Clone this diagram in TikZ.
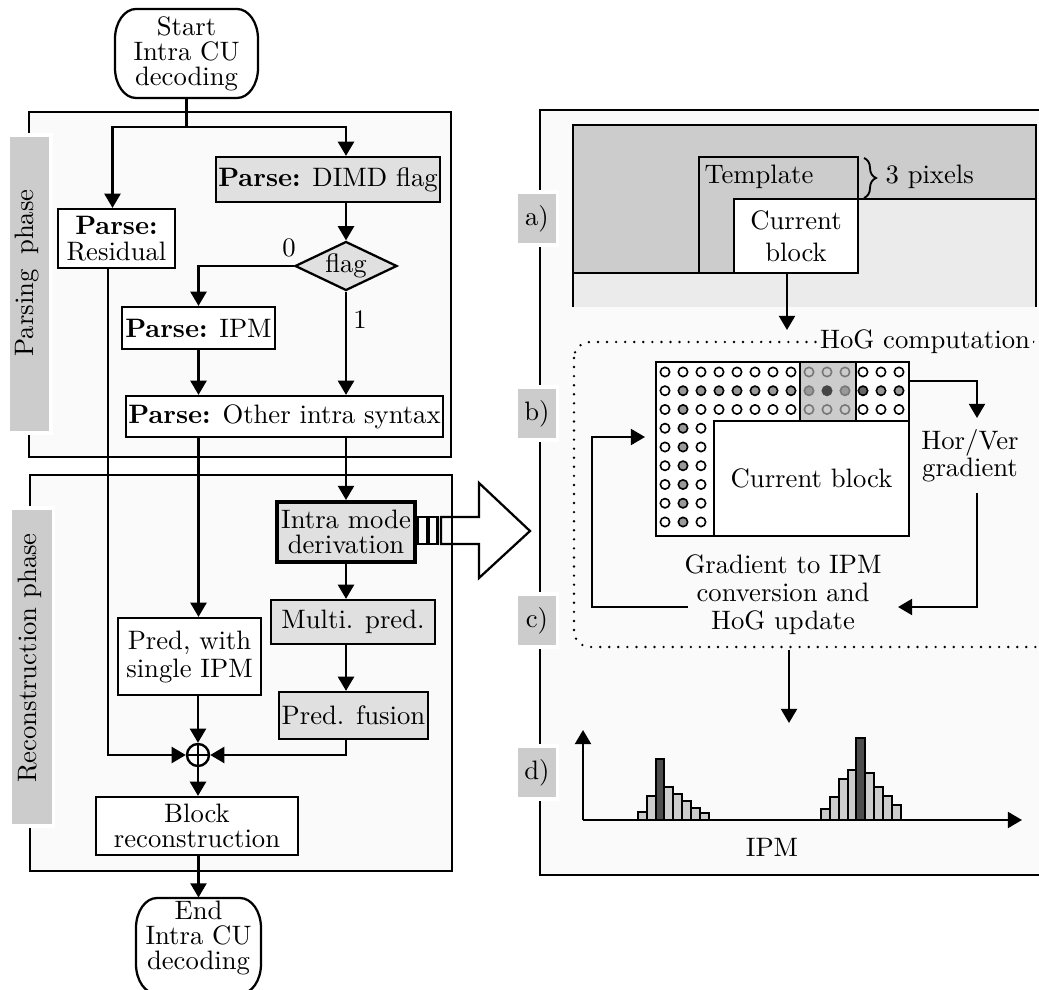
\documentclass[tikz,border=0pt]{standalone}
\usetikzlibrary{arrows.meta,shapes.geometric,calc,decorations.pathreplacing}
\definecolor{panelbg}{HTML}{FAFAFA}
\definecolor{lblgray}{HTML}{CCCCCC}
\definecolor{boxgray}{HTML}{E0E0E0}
\definecolor{lightgr}{HTML}{EBEBEB}
\definecolor{midgr}{HTML}{999999}
\definecolor{darkgr}{HTML}{444444}
\definecolor{dgrtwo}{HTML}{666666}
\definecolor{outlgr}{HTML}{777777}
\definecolor{bardark}{HTML}{4D4D4D}
\newcommand\termshape[4]{%
 \draw[line width=0.85pt, fill=white] ({#1+21},#2) -- ({#3-21},#2) .. controls ({#3-9.4},#2) and (#3,{#2+13.4}) .. (#3,{#2+30}) -- (#3,{#4-30}) .. controls (#3,{#4-13.4}) and ({#3-9.4},#4) .. ({#3-21},#4) -- ({#1+21},#4) .. controls ({#1+9.4},#4) and (#1,{#4-13.4}) .. (#1,{#4-30}) -- (#1,{#2+30}) .. controls (#1,{#2+13.4}) and ({#1+9.4},#2) .. cycle;}
\newcommand\gc[4]{\draw[fill=#3, draw=#4, line width=0.6pt] ({665+18*#1},{372+18.75*#2}) circle[radius=1.75pt];}
\tikzset{
 fb/.style={draw, line width=0.85pt, inner sep=1pt, align=center, font={\fontsize{10}{9.5}\selectfont}},
 wb/.style={fb, fill=white},
 gb/.style={fb, fill=boxgray},
 mw/.style={minimum width=#1*0.375pt},
 mh/.style={minimum height=#1*0.375pt},
 arr/.style={-{Triangle[length=5.3pt,width=6pt]}, line width=0.85pt},
 lbl/.style={fill=lblgray, draw=white, line width=1.2pt, inner sep=0pt},
 panel/.style={draw, fill=panelbg, line width=0.85pt},
 txt/.style={align=center, inner sep=1pt},
 ln/.style={line width=0.85pt}
}
\begin{document}
\begin{tikzpicture}[x=0.375pt,y=-0.375pt]
\useasboundingbox (0,0) rectangle (1039,990);
\clip (0,0) rectangle (1039,990);

% ---------- panels
\draw[panel] (29,112) rectangle (451,457);
\draw[panel] (30,475) rectangle (452,871);
\draw[panel] (540,110) rectangle (1070,875);

% ---------- phase labels
\node[lbl, mw=43, mh=298] (lp) at (29.5,284) {};
\node[rotate=90, inner sep=0pt] (lpt) at (27,273) {Parsing\hspace{0.55em}phase};
\node[lbl, mw=43, mh=318] (lr) at (32,667) {};
\node[rotate=90, inner sep=0pt] (lrt) at (30,658) {Reconstruction phase};

\node[lbl, mw=41, mh=53] (la) at (537,218.5) {a)};
\node[lbl, mw=41, mh=53] (lb) at (537,413.5) {b)};
\node[lbl, mw=41, mh=53] (lc) at (537,620.5) {c)};
\node[lbl, mw=41, mh=53] (ld) at (537,772.5) {d)};

% ---------- flowchart
\termshape{115}{9}{258}{98}
\node[txt, font={\fontsize{10}{9.4}\selectfont}, mw=143, mh=89] (start) at (186.5,53.5) {Start\\Intra CU\\decoding};
\termshape{136}{898}{261}{994}
\node[txt, font={\fontsize{10}{9.4}\selectfont}, mw=125, mh=80] (end) at (198.5,938) {End\\Intra CU\\decoding};

\node[wb, mw=117, mh=59] (resid) at (116.5,238.5) {\textbf{Parse:}\\Residual};
\node[gb, mw=222, mh=45] (dimd) at (328,179.5) {\textbf{Parse:} DIMD flag};
\node[fb, fill=boxgray, diamond, aspect=2.1, mw=102, mh=49, inner sep=0pt] (flag) at (346,266) {flag};
\node[wb, mw=153, mh=42] (ipm) at (198.5,328) {\textbf{Parse:} IPM};
\node[wb, mw=315, mh=41] (other) at (284.5,416.5) {\textbf{Parse:} Other intra syntax};
\node[gb, mw=138, mh=60, line width=1.5pt] (intra) at (346,532) {Intra mode\\derivation};
\node[gb, mw=164, mh=44] (multi) at (353,622) {Multi. pred.};
\node[gb, mw=147, mh=47] (fusion) at (353.5,715.5) {Pred. fusion};
\node[wb, mw=143, mh=77, font={\fontsize{10}{10.5}\selectfont}] (pred) at (189.5,656.5) {Pred, with\\single IPM};
\node[circle, draw, line width=0.9pt, fill=white, minimum size=8.25pt, inner sep=0pt] (plus) at (198,755) {};
\draw[line width=0.6pt] (plus.north) -- (plus.south) (plus.west) -- (plus.east);
\node[wb, mw=202, mh=58] (block) at (197,826) {Block\\reconstruction};
\node (zero) at (289,248) {0};
\node (one) at (360,320) {1};

\coordinate (split) at (186.5,127);
\draw[ln] (start.south) -- (split);
\draw[arr] (split) -| ($(resid.north)+(-4,0)$);
\draw[arr] (split) -| (dimd.north -| flag.north);
\draw[arr] (dimd.south -| flag.north) -- (flag.north);
\draw[arr] (flag.west) -| (ipm.north);
\draw[arr] (flag.south) -- (other.north -| flag.south);
\draw[arr] (ipm.south) -- (other.north -| ipm.south);
\draw[arr] (other.south -| ipm.south) -- (pred.north -| ipm.south);
\draw[arr] (other.south -| flag.south) -- (intra.north);
\draw[arr] (intra.south) -- (multi.north -| intra.south);
\draw[arr] (multi.south -| intra.south) -- (fusion.north -| intra.south);
\draw[arr] (pred.south -| plus.north) -- (plus.north);
\draw[arr] (fusion.south -| intra.south) |- (plus.east);
\draw[arr] ($(resid.south)+(-8.5,0)$) |- (plus.west);
\draw[arr] (plus.south) -- (block.north -| plus.south);
\draw[arr] (block.south -| end.north) -- (end.north);

% big hollow arrow
\draw[ln] (418,517) rectangle (427,544);
\draw[ln] (428.5,517) rectangle (437.5,544);
\draw[ln, line join=miter] (441,517) -- (479,517) -- (479,483) -- (530,531) -- (479,578) -- (479,544) -- (441,544) -- cycle;

% ---------- a) template
\fill[lblgray] (573,125) -- (1036,125) -- (1036,199) -- (858,199) -- (858,273) -- (573,273) -- cycle;
\fill[lightgr] (573,273) -- (858,273) -- (858,199) -- (1036,199) -- (1036,307) -- (573,307) -- cycle;
\draw[ln] (573,307) -- (573,125) -- (1036,125) -- (1036,307);
\draw[ln] (573,273) -- (699,273);
\draw[ln] (699,157) rectangle (858,273);
\draw[ln] (734,199) -- (1036,199);
\node[draw, fill=white, ln, align=center, inner sep=1pt, mw=124, mh=74] (cbA) at (796,236) {Current\\block};
\node[anchor=west, inner sep=0pt] (tmpl) at (704,177) {Template};
\draw[decorate, decoration={brace, amplitude=4.5pt}, line width=0.7pt] (864,158) -- (864,198);
\node[anchor=west, inner sep=0pt] (pix) at (885,177) {3 pixels};
\coordinate (hogIn) at (787,330);
\draw[arr] ($(cbA.south)+(-9,0)$) -- (hogIn);

% ---------- b) HoG computation
\draw[line width=1pt, dash pattern=on 0pt off 3.4pt, line cap=round, rounded corners=6pt] (574,342) rectangle (1070,647);
\node[fill=panelbg, inner sep=1pt] (hogl) at (925,342) {HoG computation};

\draw[fill=white, ln] (656,362) rectangle (909,536);
\draw[fill=lblgray, ln] (800,362) rectangle (856,421);
\node[draw, fill=white, ln, inner sep=1pt, mw=195, mh=115] (cbB) at (811.5,478.5) {Current block};
% circles
\foreach \c in {0,...,7,11,12,13} {\gc{\c}{0}{white}{black}}
\foreach \c in {8,9,10} {\gc{\c}{0}{lblgray}{outlgr}}
\gc{0}{1}{white}{black}
\foreach \c in {1,...,7,12,13} {\gc{\c}{1}{midgr}{black}}
\gc{8}{1}{midgr}{outlgr}
\gc{10}{1}{midgr}{outlgr}
\gc{9}{1}{darkgr}{darkgr}
\gc{11}{1}{dgrtwo}{black}
\foreach \c in {0,2,3,4,5,6,7,11,12,13} {\gc{\c}{2}{white}{black}}
\gc{1}{2}{midgr}{black}
\foreach \c in {8,9,10} {\gc{\c}{2}{lblgray}{outlgr}}
\foreach \r in {3,...,8} {\gc{0}{\r}{white}{black}\gc{1}{\r}{midgr}{black}\gc{2}{\r}{white}{black}}

\node[txt, font={\fontsize{10}{10.3}\selectfont}] (horver) at (970,456) {Hor/Ver\\gradient};
\node[txt, font={\fontsize{10}{10.5}\selectfont}] (grad) at (783,595) {Gradient to IPM\\conversion and\\HoG update};
\coordinate (gOut) at (909,381);
\coordinate (hvIn) at (977,418);
\coordinate (hvOut) at (977,493);
\coordinate (gIn) at (898,607);
\coordinate (gOutL) at (688,607);
\coordinate (gBend) at (592,607);
\coordinate (gridIn) at (645,437);
\draw[arr] (gOut) -| (hvIn);
\draw[arr] (hvOut) |- (gIn);
\draw[arr] (gOutL) -- (gBend) |- (gridIn);

% ---------- d) histogram
\coordinate (hogOut) at (789,650);
\coordinate (histIn) at (789,723);
\draw[arr] (hogOut) -- (histIn);
\foreach \h [count=\i from 0] in {8.3,24,61,32.7,26,19,12.3,6.7}
  {\draw[fill=lblgray, line width=0.75pt] ({637.7+8.9*\i},820) rectangle ({637.7+8.9*(\i+1)},{820-\h});}
\draw[fill=bardark, line width=0.75pt] ({637.7+8.9*2},820) rectangle ({637.7+8.9*3},{820-61});
\foreach \h [count=\i from 0] in {11.3,23,41,50,81.7,46.7,33.3,24.3,15}
  {\draw[fill=lblgray, line width=0.75pt] ({821+8.85*\i},820) rectangle ({821+8.85*(\i+1)},{820-\h});}
\draw[fill=bardark, line width=0.75pt] ({821+8.85*4},820) rectangle ({821+8.85*5},{820-81.7});
\coordinate (orig) at (583,820);
\coordinate (yTip) at (583,730);
\coordinate (xTip) at (1022,820);
\draw[arr] (orig) -- (yTip);
\draw[arr] (orig) -- (xTip);
\node (ipmlbl) at (772,847) {IPM};
\end{tikzpicture}
\end{document}
